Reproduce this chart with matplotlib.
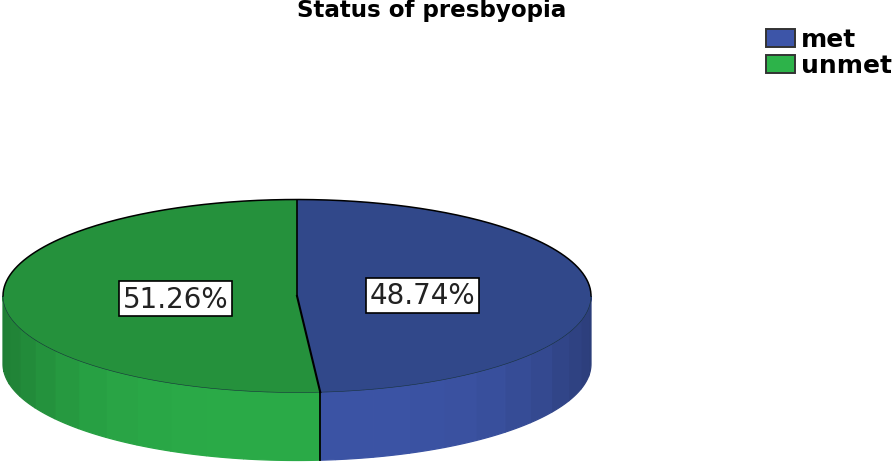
import numpy as np
import matplotlib
matplotlib.use("Agg")
import matplotlib.pyplot as plt
from matplotlib.patches import Polygon, Rectangle

# -----------------------------
# Data
# -----------------------------
categories = ["met", "unmet"]
shares = [48.74, 51.26]
share_labels = ["48.74%", "51.26%"]

top_colors = ["#31488a", "#25913c"]
side_colors = ["#3b53a4", "#2aaa47"]
legend_colors = ["#3d55a8", "#2db34a"]

# pie geometry, in image pixels
cx, cy = 297, 297
rx, ry = 294, 96.5
depth = 68


def ellipse_xy(theta, dy=0):
    # theta in degrees, clockwise from the top of the pie
    t = np.radians(theta)
    return np.column_stack([cx + rx * np.sin(t), cy - ry * np.cos(t) + dy])


def shade(color, theta):
    # side gets darker towards the left and right edges
    c = np.array(matplotlib.colors.to_rgb(color))
    edge = abs(np.sin(np.radians(theta)))
    return tuple(c * (1 - 0.26 * edge ** 4))


fig = plt.figure(figsize=(8.96, 4.64), dpi=100)
ax = fig.add_axes([0, 0, 1, 1])
ax.set_xlim(0, 896)
ax.set_ylim(464, 0)
ax.axis("off")

# -----------------------------
# Pie side and top
# -----------------------------
angles = np.cumsum([0] + shares) * 3.6

for i in range(len(shares)):
    start = max(angles[i], 90)
    end = min(angles[i + 1], 270)
    edges = np.arange(start, end, 7.5).tolist() + [end]
    for a, b in zip(edges[:-1], edges[1:]):
        t = np.linspace(a, b, 8)
        upper = ellipse_xy(t)
        lower = ellipse_xy(t, depth)
        col = shade(side_colors[i], (a + b) / 2)
        ax.add_patch(Polygon(np.vstack([upper, lower[::-1]]), closed=True,
                             facecolor=col, edgecolor=col, linewidth=0.9, zorder=2))

for i in range(len(shares)):
    t = np.linspace(angles[i], angles[i + 1], 200)
    pts = np.vstack([[cx, cy], ellipse_xy(t)])
    ax.add_patch(Polygon(pts, closed=True, facecolor=top_colors[i],
                         edgecolor="none", zorder=4))

# rim: dark on the back, faint on the front
t = np.linspace(-90, 90, 200)
ax.plot(*ellipse_xy(t).T, color="black", linewidth=1.1, zorder=5)
t = np.linspace(90, 270, 200)
ax.plot(*ellipse_xy(t).T, color="#16303a", linewidth=0.4, zorder=5)

# slice borders and the front seam
split = angles[1]
p = ellipse_xy(split)[0]
ax.plot([cx, cx], [cy - ry, cy], color="black", linewidth=1.2, zorder=6)
ax.plot([cx, p[0]], [cy, p[1]], color="black", linewidth=1.5, zorder=6)
ax.plot([p[0], p[0]], [p[1], p[1] + depth], color="black", linewidth=1.3, zorder=6)

# -----------------------------
# Labels on the slices
# -----------------------------
for i, label in enumerate(share_labels):
    mid = (angles[i] + angles[i + 1]) / 2
    t = np.radians(mid)
    x = cx + 2 + 0.42 * rx * np.sin(t)
    y = cy - 0.42 * ry * np.cos(t)
    ax.text(x, y + 1, label, ha="center", va="center", fontsize=20, color="#222222",
            zorder=7, bbox=dict(boxstyle="square,pad=0.12", facecolor="white",
                                edgecolor="black", linewidth=1.2))

# -----------------------------
# Title and legend
# -----------------------------
ax.text(431.5, 11, "Status of presbyopia", ha="center", va="center",
        fontsize=16.6, fontweight="bold", color="black")

legend_y = [39, 65]
for name, col, y in zip(categories, legend_colors, legend_y):
    ax.add_patch(Rectangle((766, y - 9), 29, 18, facecolor=col,
                           edgecolor="#333333", linewidth=1.4))
    ax.text(801, y + 1, name, ha="left", va="center", fontsize=18,
            fontweight="bold", color="black")

fig.savefig("out.png", dpi=100)
